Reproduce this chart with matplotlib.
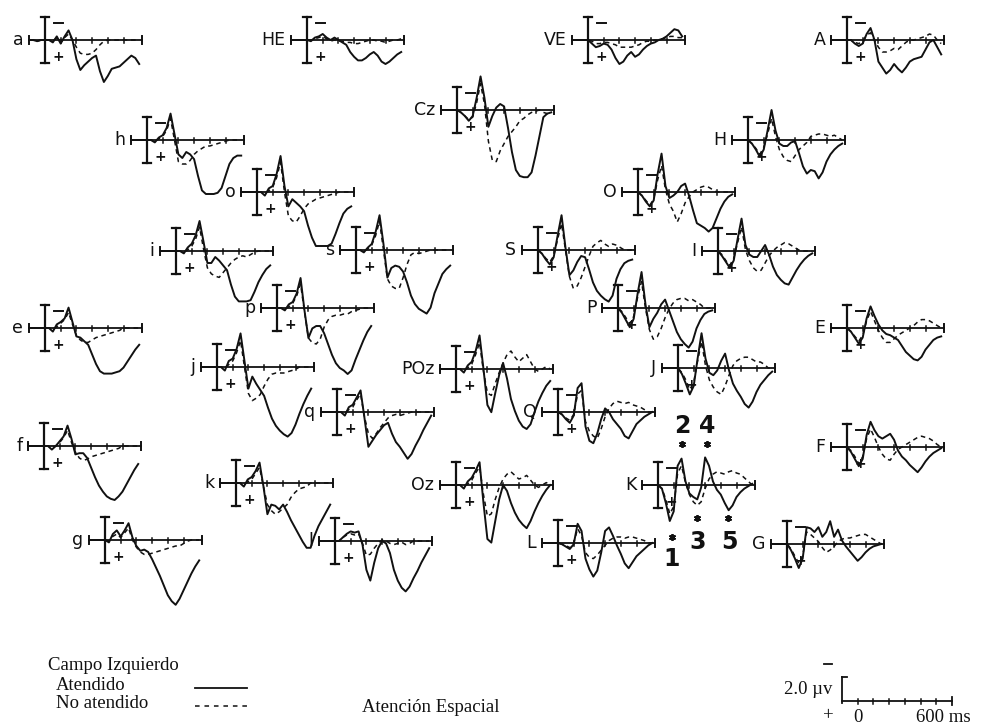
import logging

import matplotlib
matplotlib.use("Agg")
import matplotlib.pyplot as plt
import numpy as np

logging.getLogger("matplotlib.font_manager").setLevel(logging.ERROR)

# sampling grid of every trace (ms after stimulus)
time_ms = [-100, -75, -50, -25, 0, 25, 50, 75, 100, 125, 150, 175, 200, 225, 250,
           275, 300, 325, 350, 375, 400, 425, 450, 475, 500, 525, 550, 575, 600]

# amplitudes in microvolts, negative plotted upwards
att_a = [0, 0, 0.1, 0, 0, 0.0, 0.2, -0.3, 0.3, -0.3, -0.8, 0.0, 1.6, 2.5, 2.1, 1.8, 1.5, 1.3, 2.6, 3.5, 3.0, 2.4, 2.3, 2.2, 1.9, 1.6, 1.3, 1.5, 2.0]
una_a = [0, 0, 0.1, 0, 0, 0.0, 0.1, -0.2, 0.2, -0.2, -0.5, 0.0, 0.6, 1.1, 1.2, 1.2, 1.1, 0.8, 0.4, 0.1, 0.0, 0.0, 0.0, 0.0, 0.0, 0.0, 0.0, 0.0, 0.0]
att_HE = [0, 0, 0, 0, 0, 0.1, -0.2, -0.3, -0.5, -0.2, 0.0, -0.2, 0.0, 0.2, 0.4, 1.0, 1.4, 1.7, 1.7, 1.5, 1.2, 1.0, 1.3, 1.8, 2.0, 1.8, 1.5, 1.2, 1.0]
una_HE = [0, 0, 0, 0, 0, 0.0, -0.1, -0.2, -0.3, -0.1, 0.1, 0.0, 0.1, 0.1, 0.2, 0.2, 0.3, 0.3, 0.2, 0.1, 0.0, 0.0, 0.1, 0.1, 0.2, 0.1, 0.0, 0.0, -0.1]
att_VE = [0, 0, 0, 0, 0, 0.3, 0.6, 0.5, 0.3, 0.4, 0.8, 1.5, 2.0, 1.8, 1.3, 1.0, 1.4, 1.2, 0.8, 0.5, 0.3, 0.2, 0.0, -0.1, -0.3, -0.6, -0.9, -0.8, -0.3]
una_VE = [0, 0, 0, 0, 0, 0.1, 0.3, 0.3, 0.2, 0.2, 0.3, 0.4, 0.6, 0.6, 0.6, 0.6, 0.5, 0.4, 0.2, 0.1, 0.1, 0.0, 0.0, -0.1, -0.2, -0.3, -0.3, -0.2, -0.2]
att_A = [0, 0, 0, 0, 0, 0.0, 0.3, 0.5, 0.3, -0.5, -1.0, 0.0, 1.8, 2.3, 2.8, 2.5, 2.0, 2.4, 2.7, 2.3, 1.8, 1.6, 1.5, 1.4, 0.8, 0.2, 0.0, 0.6, 1.2]
una_A = [0, 0, 0, 0, 0, 0.0, 0.2, 0.3, 0.1, -0.4, -0.6, 0.0, 0.6, 1.0, 1.0, 0.9, 0.7, 0.8, 0.5, 0.2, 0.0, 0.0, -0.1, -0.2, -0.3, -0.5, -0.4, 0.0, 0.3]
att_Cz = [0, 0, 0, 0, 0, 0.2, 0.5, 0.9, 0.5, -1.0, -2.8, -1.0, 1.4, 0.5, -0.2, -0.5, -0.3, 1.5, 3.5, 5.0, 5.5, 5.6, 5.6, 5.2, 3.8, 2.2, 0.6, 0.3, 0.2]
una_Cz = [0, 0, 0, 0, 0, 0.2, 0.5, 0.8, 0.6, -0.6, -2.2, -0.5, 2.6, 4.2, 4.3, 3.4, 2.8, 2.2, 1.8, 1.4, 0.9, 0.7, 0.4, 0.2, 0.1, 0.0, 0.2, 0.3, 0.3]
att_h = [0, 0, 0, 0, 0, 0.0, 0.2, -0.2, -0.4, -1.0, -2.2, -0.5, 1.2, 1.5, 1.0, 1.2, 1.6, 3.0, 4.2, 4.5, 4.5, 4.5, 4.4, 4.0, 3.0, 2.0, 1.5, 1.3, 1.3]
una_h = [0, 0, 0, 0, 0, 0.0, 0.1, -0.1, -0.3, -0.8, -1.8, 0.0, 1.8, 2.0, 2.0, 1.7, 1.2, 0.9, 0.7, 0.5, 0.5, 0.4, 0.3, 0.2, 0.1, 0.0, 0.0, 0.0, 0.0]
att_o = [0, 0, 0, 0, 0, 0.0, 0.3, -0.3, -0.5, -1.5, -3.0, -0.5, 1.2, 0.6, 0.9, 1.2, 1.6, 2.8, 3.8, 4.5, 4.5, 4.5, 4.5, 4.3, 3.5, 2.6, 1.8, 1.4, 1.2]
una_o = [0, 0, 0, 0, 0, 0.0, 0.1, -0.1, -0.4, -1.2, -2.5, 0.0, 2.0, 2.4, 2.5, 2.0, 1.4, 1.0, 0.8, 0.6, 0.5, 0.4, 0.3, 0.2, 0.1, 0.0, 0.0, 0.0, 0.0]
att_i = [0, 0, 0, 0, 0, 0.0, 0.2, -0.3, -0.6, -1.3, -2.5, -0.8, 1.0, 1.0, 0.5, 0.8, 1.2, 1.6, 2.8, 3.8, 4.2, 4.2, 4.2, 4.1, 3.4, 2.6, 2.0, 1.5, 1.2]
una_i = [0, 0, 0, 0, 0, 0.0, 0.1, -0.1, -0.4, -1.0, -2.0, -0.2, 1.4, 1.9, 2.1, 2.2, 1.8, 1.4, 1.0, 0.7, 0.5, 0.4, 0.5, 0.3, 0.1, 0.0, 0.0, 0.0, 0.0]
att_s = [0, 0, 0, 0, 0, 0.0, 0.2, -0.2, -0.5, -1.5, -2.9, -0.5, 2.3, 1.5, 1.3, 1.4, 1.8, 2.7, 3.8, 4.5, 4.9, 5.1, 5.3, 4.8, 3.6, 2.8, 2.0, 1.6, 1.3]
una_s = [0, 0, 0, 0, 0, 0.0, 0.1, -0.1, -0.4, -1.2, -2.4, 0.0, 2.4, 3.0, 3.2, 3.2, 2.3, 1.2, 0.4, 0.2, 0.3, 0.2, 0.1, 0.0, 0.0, 0.0, 0.0, 0.0, 0.0]
att_p = [0, 0, 0, 0, 0, 0.0, 0.2, -0.3, -0.5, -1.2, -2.5, 0.2, 2.5, 1.7, 1.5, 1.5, 2.1, 3.0, 3.9, 4.6, 5.0, 5.2, 5.5, 5.2, 4.3, 3.5, 2.7, 2.0, 1.5]
una_p = [0, 0, 0, 0, 0, 0.0, 0.1, -0.1, -0.4, -1.0, -2.0, 0.3, 2.5, 2.9, 3.0, 2.6, 1.6, 1.0, 0.7, 0.6, 0.6, 0.5, 0.5, 0.3, 0.2, 0.1, 0.0, 0.0, 0.0]
att_e = [0, 0, 0, 0, 0, 0.0, 0.3, -0.3, -0.5, -0.8, -1.7, -0.5, 0.7, 0.8, 1.1, 1.4, 2.2, 3.0, 3.6, 3.8, 3.8, 3.8, 3.7, 3.6, 3.3, 2.8, 2.3, 1.8, 1.4]
una_e = [0, 0, 0, 0, 0, 0.0, 0.1, -0.1, -0.4, -0.7, -1.3, -0.3, 0.6, 1.0, 1.2, 1.2, 1.0, 0.8, 0.7, 0.6, 0.5, 0.4, 0.3, 0.2, 0.0, 0.0, 0.0, 0.0, 0.0]
att_j = [0, 0, 0, 0, 0, 0.0, 0.3, -0.5, -0.7, -1.5, -2.8, -0.5, 1.8, 0.8, 1.4, 1.9, 2.4, 3.4, 4.3, 4.9, 5.3, 5.6, 5.8, 5.5, 4.8, 3.9, 3.1, 2.4, 1.8]
una_j = [0, 0, 0, 0, 0, 0.0, 0.1, -0.2, -0.5, -1.2, -2.2, 0.0, 2.2, 2.8, 2.6, 2.3, 1.6, 1.0, 0.6, 0.5, 0.5, 0.5, 0.4, 0.3, 0.2, 0.0, 0.0, 0.0, 0.0]
att_POz = [0, 0, 0, 0, 0, 0.0, 0.3, -0.3, -0.6, -1.5, -2.8, 0.0, 3.0, 3.6, 2.0, 0.5, -0.5, 0.8, 2.5, 3.5, 4.3, 4.8, 5.0, 4.6, 3.6, 2.7, 2.0, 1.4, 1.0]
una_POz = [0, 0, 0, 0, 0, 0.0, 0.1, -0.1, -0.4, -1.2, -2.2, 0.2, 2.0, 2.2, 1.2, 0.3, -0.5, -1.2, -1.5, -1.0, -0.6, -0.9, -1.2, -0.6, 0.0, 0.2, 0.0, -0.2, 0.0]
att_q = [0, 0, 0, 0, 0, 0.0, 0.3, -0.4, -0.6, -1.2, -1.8, 0.5, 2.9, 2.4, 1.9, 1.5, 1.1, 0.9, 1.8, 2.5, 2.9, 3.4, 3.9, 3.5, 2.8, 2.2, 1.5, 0.9, 0.3]
una_q = [0, 0, 0, 0, 0, 0.0, 0.1, -0.2, -0.4, -1.0, -1.5, 0.4, 1.8, 2.2, 1.8, 1.3, 0.9, 0.5, 0.3, 0.2, 0.3, 0.2, 0.1, 0.0, 0.0, 0.0, 0.0, 0.0, 0.0]
att_f = [0, 0, 0, 0, 0, 0.0, 0.3, 0.0, -0.4, -0.8, -1.7, -0.6, 0.7, 0.6, 0.6, 1.0, 1.8, 2.6, 3.3, 3.8, 4.2, 4.4, 4.5, 4.2, 3.8, 3.2, 2.6, 2.0, 1.5]
una_f = [0, 0, 0, 0, 0, 0.0, 0.1, 0.0, -0.3, -0.7, -1.3, -0.3, 0.5, 1.0, 1.2, 1.1, 0.9, 0.8, 0.7, 0.6, 0.5, 0.4, 0.3, 0.2, 0.0, 0.0, 0.0, 0.0, 0.0]
att_k = [0, 0, 0, 0, 0, 0.0, 0.3, -0.3, -0.5, -1.0, -1.7, 0.3, 2.6, 1.8, 1.9, 2.2, 1.8, 2.4, 3.1, 3.7, 4.3, 4.9, 5.4, 5.4, 4.4, 3.6, 3.0, 2.4, 1.8]
una_k = [0, 0, 0, 0, 0, 0.0, 0.1, -0.1, -0.3, -0.8, -1.3, 0.3, 1.8, 2.3, 2.6, 2.4, 2.1, 1.8, 1.2, 0.8, 0.5, 0.4, 0.3, 0.0, 0.0, 0.0, 0.0, 0.0, 0.0]
att_Oz = [0, 0, 0, 0, 0, 0.0, 0.3, -0.3, -0.6, -1.2, -1.9, 1.5, 4.5, 4.8, 3.0, 1.2, 0.0, 0.5, 1.5, 2.3, 2.9, 3.3, 3.6, 3.0, 2.2, 1.5, 0.9, 0.4, 0.0]
una_Oz = [0, 0, 0, 0, 0, 0.0, 0.1, -0.1, -0.4, -1.0, -1.5, 0.8, 2.6, 2.4, 1.2, 0.2, -0.5, -0.9, -1.1, -0.8, -0.5, -0.6, -0.8, -0.4, 0.0, 0.2, 0.0, -0.2, 0.0]
att_g = [0, 0, 0, 0, 0, 0.2, -0.5, -0.8, -0.3, -0.8, -1.4, -0.2, 0.5, 0.9, 0.8, 1.0, 1.6, 2.3, 3.0, 3.8, 4.6, 5.1, 5.4, 4.9, 4.2, 3.5, 2.8, 2.2, 1.7]
una_g = [0, 0, 0, 0, 0, 0.1, -0.3, -0.5, -0.2, -0.6, -1.0, 0.0, 0.6, 1.0, 1.2, 1.2, 1.1, 1.0, 0.9, 0.8, 0.7, 0.6, 0.5, 0.5, 0.3, 0.1, 0.0, 0.0, 0.0]
att_l = [0, 0, 0, 0, 0, 0.0, -0.3, -0.6, -0.8, -0.7, -0.8, 0.3, 2.4, 3.3, 1.8, 0.6, 0.0, 0.2, 1.0, 2.4, 3.3, 3.9, 4.2, 3.8, 3.1, 2.5, 1.8, 1.2, 0.6]
una_l = [0, 0, 0, 0, 0, 0.0, -0.3, -0.5, -0.6, -0.5, -0.6, 0.2, 1.2, 1.1, 0.6, 0.2, -0.1, 0.0, 0.2, 0.3, 0.2, 0.1, 0.3, 0.2, 0.0, 0.0, 0.0, 0.0, 0.0]
att_H = [0, 0, 0, 0, 0, 0.3, 0.8, 1.4, 0.8, -0.8, -2.5, -0.8, 0.3, 0.5, 0.5, 0.2, 0.1, 1.1, 2.2, 2.8, 2.5, 2.6, 3.2, 2.7, 1.8, 1.2, 0.8, 0.5, 0.3]
una_H = [0, 0, 0, 0, 0, 0.3, 0.7, 1.2, 0.6, -0.5, -1.8, -0.3, 0.8, 1.4, 1.7, 1.8, 1.3, 0.8, 0.5, 0.2, -0.3, -0.4, -0.5, -0.5, -0.4, -0.3, -0.4, -0.2, 0.0]
att_O = [0, 0, 0, 0, 0, 0.3, 0.8, 1.2, 0.7, -1.5, -3.2, -0.5, 0.5, 0.3, 0.0, -0.5, -0.7, 0.3, 1.5, 2.6, 2.8, 3.0, 3.3, 3.0, 2.2, 1.4, 0.8, 0.4, 0.2]
una_O = [0, 0, 0, 0, 0, 0.3, 0.7, 1.1, 0.6, -1.0, -2.2, -0.2, 1.0, 1.6, 2.5, 1.8, 0.9, 0.4, 0.0, -0.2, -0.4, -0.5, -0.4, -0.2, 0.0, 0.0, 0.0, 0.0, 0.0]
att_S = [0, 0, 0, 0, 0, 0.3, 0.8, 1.2, 0.6, -1.2, -2.9, -0.2, 2.1, 1.7, 1.0, 0.5, 0.6, 1.6, 2.7, 3.4, 3.8, 4.1, 4.3, 3.8, 2.4, 1.6, 1.1, 0.9, 0.8]
una_S = [0, 0, 0, 0, 0, 0.3, 0.7, 1.0, 0.5, -0.9, -2.2, 0.0, 2.2, 3.2, 3.0, 2.3, 1.4, 0.5, -0.3, -0.6, -0.8, -0.5, -0.3, -0.5, -0.4, -0.2, 0.0, 0.0, 0.0]
att_I = [0, 0, 0, 0, 0, 0.4, 0.9, 1.4, 0.8, -1.0, -2.7, -0.5, 0.3, 0.5, 0.5, 0.0, -0.5, 0.3, 1.3, 2.0, 2.4, 2.7, 2.8, 2.2, 1.6, 1.1, 0.7, 0.4, 0.2]
una_I = [0, 0, 0, 0, 0, 0.3, 0.8, 1.2, 0.6, -0.7, -2.0, -0.1, 0.8, 1.4, 1.7, 1.6, 1.0, 0.4, 0.0, -0.3, -0.5, -0.7, -0.6, -0.4, -0.2, 0.0, 0.0, 0.0, 0.0]
att_P = [0, 0, 0, 0, 0, 0.4, 1.0, 1.6, 0.9, -1.2, -3.0, -0.3, 1.6, 0.9, 0.4, -0.3, -0.7, 0.2, 1.1, 2.0, 2.6, 3.0, 3.3, 2.8, 1.7, 1.0, 0.5, 0.3, 0.2]
una_P = [0, 0, 0, 0, 0, 0.3, 0.8, 1.3, 0.7, -0.9, -2.2, 0.0, 1.8, 2.6, 2.4, 1.7, 0.8, 0.1, -0.4, -0.7, -0.8, -0.8, -0.6, -0.7, -0.5, -0.3, 0.0, 0.0, 0.0]
att_E = [0, 0, 0, 0, 0, 0.3, 0.8, 1.3, 0.8, -0.8, -1.8, -1.0, -0.3, 0.2, 0.5, 0.6, 0.8, 1.0, 1.5, 2.0, 2.3, 2.6, 2.7, 2.4, 1.8, 1.4, 1.0, 0.8, 0.7]
una_E = [0, 0, 0, 0, 0, 0.3, 0.7, 1.1, 0.6, -0.6, -1.4, -0.6, 0.2, 0.8, 1.2, 1.2, 0.9, 0.6, 0.4, 0.2, 0.0, -0.2, -0.5, -0.7, -0.7, -0.6, -0.4, -0.2, 0.0]
att_J = [0, 0, 0, 0, 0, 0.5, 1.3, 2.2, 1.5, -0.8, -2.9, -0.8, 0.4, 0.6, 0.2, -0.6, -1.2, 0.2, 1.3, 1.9, 2.4, 3.0, 3.3, 2.8, 2.0, 1.4, 1.0, 0.6, 0.3]
una_J = [0, 0, 0, 0, 0, 0.4, 1.0, 1.8, 1.2, -0.6, -2.2, -0.2, 1.0, 1.6, 2.0, 2.2, 1.5, 0.6, -0.2, -0.6, -0.8, -0.9, -0.9, -0.7, -0.5, -0.5, -0.3, 0.0, 0.0]
att_Q = [0, 0, 0, 0, 0, 0.2, 0.6, 0.9, 0.3, -2.0, -2.4, 1.2, 2.4, 2.6, 1.8, 0.6, -0.3, 0.0, 0.6, 1.0, 1.4, 2.0, 2.2, 1.6, 1.0, 0.7, 0.4, 0.2, 0.0]
una_Q = [0, 0, 0, 0, 0, 0.2, 0.5, 0.7, 0.2, -1.5, -1.8, 0.8, 1.6, 2.0, 2.2, 1.4, 0.4, -0.3, -0.7, -0.9, -0.8, -0.7, -0.8, -0.6, -0.5, -0.4, -0.2, 0.0, 0.0]
att_F = [0, 0, 0, 0, 0, 0.4, 1.0, 1.6, 1.0, -1.0, -2.1, -1.4, -0.9, -0.7, -0.9, -1.1, -0.6, 0.3, 0.8, 1.1, 1.5, 1.8, 2.1, 1.7, 1.2, 0.8, 0.5, 0.3, 0.1]
una_F = [0, 0, 0, 0, 0, 0.3, 0.8, 1.4, 0.8, -0.7, -1.5, -0.8, 0.0, 0.6, 1.0, 1.1, 0.6, 0.2, 0.0, -0.2, -0.4, -0.6, -0.8, -0.9, -0.8, -0.7, -0.5, -0.2, 0.0]
att_K = [0, 0, 0, 0, 0, 0.3, 1.5, 3.0, 2.2, -1.6, -2.2, -0.3, 0.7, 1.0, 1.2, 0.2, -2.3, -1.6, -0.3, 0.4, 0.8, 1.5, 2.1, 1.7, 1.0, 0.6, 0.3, 0.1, -0.1]
una_K = [0, 0, 0, 0, 0, 0.3, 1.2, 2.4, 1.8, -1.0, -1.6, -0.2, 0.8, 1.4, 1.7, 1.4, 0.3, -0.5, -0.9, -1.1, -1.0, -0.9, -1.1, -1.2, -1.0, -0.9, -0.6, -0.3, 0.0]
att_L = [0, 0, 0, 0, 0, 0.1, 0.3, 0.5, 0.1, -1.6, -1.0, 1.3, 2.2, 2.8, 2.3, 0.8, -1.0, -1.3, -0.6, 0.2, 0.9, 1.7, 2.1, 1.6, 1.1, 0.8, 0.5, 0.2, 0.0]
una_L = [0, 0, 0, 0, 0, 0.1, 0.2, 0.4, 0.0, -1.2, -0.6, 0.8, 1.2, 1.3, 1.0, 0.6, 0.2, -0.2, -0.4, -0.5, -0.5, -0.4, -0.5, -0.5, -0.4, -0.3, -0.2, 0.0, 0.0]
att_G = [0, 0, 0, 0, 0, 0.5, 1.2, 2.0, 1.2, -1.4, -1.3, -1.0, -1.4, -0.6, -1.0, -1.9, -0.6, -1.2, -0.3, 0.2, 0.6, 1.0, 1.4, 1.1, 0.7, 0.4, 0.2, 0.1, 0.0]
una_G = [0, 0, 0, 0, 0, 0.4, 1.0, 1.6, 1.0, -1.0, -0.8, -0.5, -0.2, 0.3, 0.7, 0.5, 0.2, -0.2, -0.4, -0.5, -0.5, -0.6, -0.7, -0.8, -0.8, -0.6, -0.4, -0.2, 0.0]

# electrode label, x of the 0 ms bar, y of the baseline (pixels), attended, unattended
panels = [
    ("a", 45, 40, att_a, una_a),
    ("HE", 307, 40, att_HE, una_HE),
    ("VE", 588, 40, att_VE, una_VE),
    ("A", 847, 40, att_A, una_A),
    ("Cz", 457, 110, att_Cz, una_Cz),
    ("h", 147, 140, att_h, una_h),
    ("H", 748, 140, att_H, una_H),
    ("o", 257, 192, att_o, una_o),
    ("O", 638, 192, att_O, una_O),
    ("i", 176, 251, att_i, una_i),
    ("s", 356, 250, att_s, una_s),
    ("S", 538, 250, att_S, una_S),
    ("I", 718, 251, att_I, una_I),
    ("p", 277, 308, att_p, una_p),
    ("P", 618, 308, att_P, una_P),
    ("e", 45, 328, att_e, una_e),
    ("E", 847, 328, att_E, una_E),
    ("j", 217, 367, att_j, una_j),
    ("POz", 456, 369, att_POz, una_POz),
    ("J", 678, 368, att_J, una_J),
    ("q", 337, 412, att_q, una_q),
    ("Q", 558, 412, att_Q, una_Q),
    ("f", 44, 446, att_f, una_f),
    ("F", 847, 447, att_F, una_F),
    ("k", 236, 483, att_k, una_k),
    ("Oz", 456, 485, att_Oz, una_Oz),
    ("K", 658, 485, att_K, una_K),
    ("g", 105, 540, att_g, una_g),
    ("l", 335, 541, att_l, una_l),
    ("L", 558, 543, att_L, una_L),
    ("G", 787, 544, att_G, una_G),
]

W, H = 983, 727
PX_PER_MS = 0.157
PX_PER_UV = 12.0
BAR = 23
AXIS_START, AXIS_END = -100, 615
TICKS = [100, 200, 300, 400, 500]
INK = "#111111"


def draw_panel(ax, label, bx, by, att, una):
    t = np.asarray(time_ms, dtype=float)
    x = bx + t * PX_PER_MS
    ax.plot(x, by + np.asarray(una) * PX_PER_UV, color=INK, lw=1.1, ls=(0, (3, 2.5)))
    ax.plot(x, by + np.asarray(att) * PX_PER_UV, color=INK, lw=1.4, solid_joinstyle="round")

    x0 = bx + AXIS_START * PX_PER_MS
    x1 = bx + AXIS_END * PX_PER_MS
    ax.plot([x0, x1], [by, by], color=INK, lw=1.3)
    for xe in (x0, x1):
        ax.plot([xe, xe], [by - 4, by + 4], color=INK, lw=1.4)
    for tk in TICKS:
        xt = bx + tk * PX_PER_MS
        ax.plot([xt, xt], [by - 2.5, by + 2.5], color=INK, lw=1.1)

    # amplitude bar at stimulus onset
    ax.plot([bx, bx], [by - BAR, by + BAR], color=INK, lw=1.6)
    for yc in (by - BAR, by + BAR):
        ax.plot([bx - 4, bx + 4], [yc, yc], color=INK, lw=1.6)
    ax.plot([bx + 9, bx + 18], [by - 17, by - 17], color=INK, lw=1.4)
    ax.text(bx + 13, by + 17, "+", ha="center", va="center", fontsize=10,
            fontweight="bold", color=INK)

    ax.text(x0 - 6, by, label, ha="right", va="center", fontsize=12.5, color=INK)


fig = plt.figure(figsize=(W / 100, H / 100), dpi=100)
ax = fig.add_axes([0, 0, 1, 1])
ax.set_xlim(0, W)
ax.set_ylim(H, 0)
ax.axis("off")

for label, bx, by, att, una in panels:
    draw_panel(ax, label, bx, by, att, una)

# component numbers at K, with asterisks on the peaks
num_font = dict(family=["Liberation Sans Narrow", "DejaVu Sans"], fontweight="bold",
                fontsize=17, color=INK, ha="center", va="center")
ax.text(682, 426, "2", **num_font)
ax.text(707, 426, "4", **num_font)
ax.text(698, 542, "3", **num_font)
ax.text(729, 542, "5", **num_font)
ax.text(672, 559, "1", **num_font)
star_x = [682, 707, 697, 728, 672]
star_y = [444, 444, 518, 518, 537]
ax.plot(star_x, star_y, ls="none", marker=(6, 2, 0), ms=5, mew=1.3, color=INK)

# legend
serif = dict(family=["Liberation Serif", "DejaVu Serif"], fontsize=13.5, color=INK, va="center")
ax.text(48, 666, "Campo Izquierdo", ha="left", **serif)
ax.text(56, 685, "Atendido", ha="left", **serif)
ax.text(56, 704, "No atendido", ha="left", **serif)
ax.plot([195, 247], [688, 688], color=INK, lw=1.3)
ax.plot([195, 247], [706, 706], color=INK, lw=1.1, ls=(0, (3, 3.2)))
ax.text(362, 707, "Atención Espacial", ha="left", **serif)

# calibration
sx0, sy0 = 842, 701
ax.plot([sx0, sx0], [sy0 - 2.0 * PX_PER_UV, sy0 + 2], color=INK, lw=1.3)
ax.plot([sx0, sx0 + 5], [sy0 - 2.0 * PX_PER_UV] * 2, color=INK, lw=1.3)
s_zero = sx0 + 100 * PX_PER_MS
s_end = s_zero + 600 * PX_PER_MS
ax.plot([sx0, s_end], [sy0, sy0], color=INK, lw=1.3)
ax.plot([s_end, s_end], [sy0 - 4, sy0 + 4], color=INK, lw=1.3)
for tk in range(0, 600, 100):
    xt = s_zero + tk * PX_PER_MS
    ax.plot([xt, xt], [sy0 - 2.5, sy0 + 2.5], color=INK, lw=1.1)
ax.plot([824, 832], [664, 664], color=INK, lw=1.3)
ax.text(832, 690, "2.0 µv", ha="right", **serif)
ax.text(828, 716, "+", ha="center", **serif)
ax.text(s_zero, 717, "0", ha="center", **serif)
ax.text(916, 717, "600 ms", ha="left", **serif)

fig.savefig("out.png", dpi=100)
